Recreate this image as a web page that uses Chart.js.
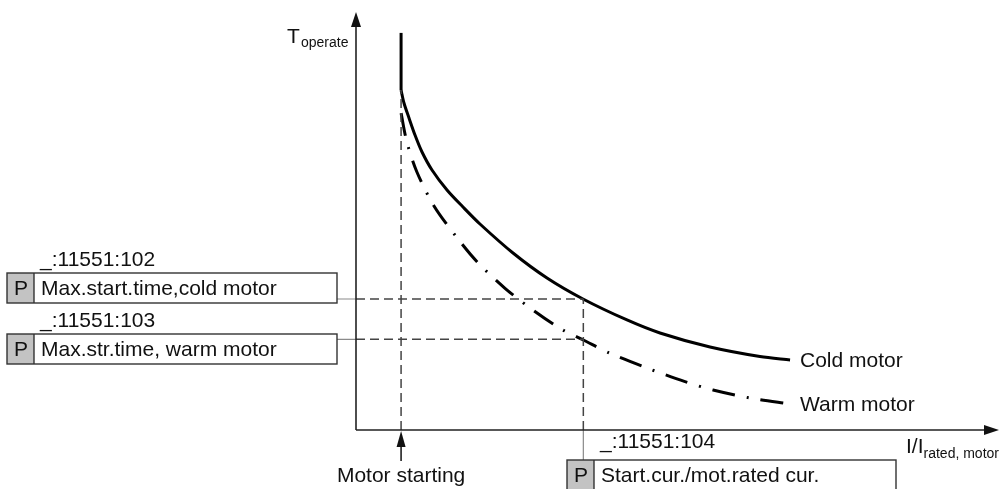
<!DOCTYPE html>
<html>
<head>
<meta charset="utf-8">
<script src="https://cdn.jsdelivr.net/npm/chart.js@4.4.1/dist/chart.umd.min.js"></script>
<style>
  html, body { margin: 0; padding: 0; background: #fff; }
  #wrap { width: 1000px; height: 489px; overflow: hidden; }
</style>
</head>
<body>
<div id="wrap"><canvas id="motor-chart" width="1000" height="489"></canvas></div>
<script>
/* Motor starting time supervision — T_operate vs I/I_rated (schematic units 0..10) */

// cold motor characteristic
const coldX = [0.70, 0.745, 0.823, 0.916, 1.025, 1.18, 1.413, 1.661, 1.925, 2.438, 2.966, 3.525, 4.208, 4.72, 5.497, 6.273, 6.74];
const coldY = [8.13, 7.823, 7.464, 7.057, 6.651, 6.22, 5.742, 5.335, 4.928, 4.234, 3.636, 3.134, 2.632, 2.321, 1.986, 1.758, 1.675];
// vertical part above the starting point
const coldTopX = [0.70, 0.70];
const coldTopY = [8.13, 9.50];

// warm motor characteristic
const warmX = [0.70, 0.789, 0.944, 1.211, 1.564, 1.879, 2.314, 2.795, 3.194, 3.53, 3.944, 4.519, 5.109, 5.544, 6.145, 6.74];
const warmY = [7.58, 6.897, 6.179, 5.359, 4.610, 4.026, 3.390, 2.816, 2.409, 2.153, 1.835, 1.483, 1.156, 0.957, 0.758, 0.62];

// reference points
const motorStart = 0.70;
const startCurrent = 3.53;
const coldAtStart = 3.134;
const warmAtStart = 2.17;

const axisMin = 0, axisMax = 10;

const curveLabels = ['Cold motor', 'Warm motor'];
const paramIds = ['_:11551:102', '_:11551:103', '_:11551:104'];
const paramNames = ['Max.start.time,cold motor', 'Max.str.time, warm motor', 'Start.cur./mot.rated cur.'];

const FONT = '"Liberation Sans", Arial, Helvetica, sans-serif';

const pts = (xs, ys) => xs.map((v, i) => ({ x: v, y: ys[i] }));

const guide = data => ({
    data, borderColor: '#444', borderWidth: 1.5, borderDash: [9, 5],
    pointRadius: 0, tension: 0, fill: false
});

const diagramPlugin = {
    id: 'diagram',
    afterDatasetsDraw(chart) {
        const { ctx, scales: { x, y } } = chart;
        const x0 = x.getPixelForValue(axisMin), y0 = y.getPixelForValue(axisMin);
        const yTop = y.getPixelForValue(axisMax), xEnd = x.getPixelForValue(axisMax);
        const xs = x.getPixelForValue(startCurrent), xm = x.getPixelForValue(motorStart);
        const yc = y.getPixelForValue(coldAtStart), yw = y.getPixelForValue(warmAtStart);

        ctx.save();
        ctx.setLineDash([]);

        // connectors to parameter boxes
        ctx.strokeStyle = '#8a8a8a';
        ctx.lineWidth = 1.2;
        ctx.beginPath();
        ctx.moveTo(337, yc); ctx.lineTo(x0, yc);
        ctx.moveTo(337, yw); ctx.lineTo(x0, yw);
        ctx.moveTo(xs, y0); ctx.lineTo(xs, 460);
        ctx.stroke();

        // axes
        ctx.strokeStyle = '#222';
        ctx.fillStyle = '#111';
        ctx.lineWidth = 1.6;
        ctx.beginPath();
        ctx.moveTo(x0, y0); ctx.lineTo(x0, yTop + 10);
        ctx.moveTo(x0, y0); ctx.lineTo(xEnd - 10, y0);
        ctx.stroke();
        const tri = (a, b, c) => { ctx.beginPath(); ctx.moveTo(...a); ctx.lineTo(...b); ctx.lineTo(...c); ctx.closePath(); ctx.fill(); };
        tri([x0, yTop], [x0 - 5, yTop + 15], [x0 + 5, yTop + 15]);
        tri([xEnd - 1, y0], [xEnd - 16, y0 - 5], [xEnd - 16, y0 + 5]);

        // motor starting arrow
        ctx.beginPath();
        ctx.moveTo(xm, y0 + 12); ctx.lineTo(xm, y0 + 31);
        ctx.stroke();
        tri([xm, y0 + 1], [xm - 4.5, y0 + 17], [xm + 4.5, y0 + 17]);

        // parameter boxes
        const box = (bx, by, bw, bh, name) => {
            ctx.fillStyle = '#fff';
            ctx.fillRect(bx, by, bw, bh);
            ctx.fillStyle = '#c3c3c3';
            ctx.fillRect(bx, by, 27, bh);
            ctx.strokeStyle = '#333';
            ctx.lineWidth = 1.4;
            ctx.strokeRect(bx, by, bw, bh);
            ctx.beginPath(); ctx.moveTo(bx + 27, by); ctx.lineTo(bx + 27, by + bh); ctx.stroke();
            ctx.fillStyle = '#111';
            ctx.font = '21px ' + FONT;
            ctx.textAlign = 'left';
            ctx.textBaseline = 'alphabetic';
            ctx.fillText('P', bx + 7, by + 21.5);
            ctx.fillText(name, bx + 34, by + 21.5);
        };
        box(7, 273, 330, 30, paramNames[0]);
        box(7, 334, 330, 30, paramNames[1]);
        box(567, 460, 329, 40, paramNames[2]);

        ctx.fillStyle = '#111';
        ctx.font = '21px ' + FONT;
        ctx.textAlign = 'left';
        ctx.fillText(paramIds[0], 40, 266);
        ctx.fillText(paramIds[1], 40, 327);
        ctx.fillText(paramIds[2], 600, 448);

        // curve labels
        ctx.fillText(curveLabels[0], 800, 367);
        ctx.fillText(curveLabels[1], 800, 411);

        // motor starting
        ctx.textAlign = 'center';
        ctx.fillText('Motor starting', xm, 482);

        // axis titles with subscripts
        ctx.textAlign = 'left';
        ctx.font = '21px ' + FONT;
        ctx.fillText('T', 287, 43);
        ctx.font = '14px ' + FONT;
        ctx.fillText('operate', 301, 47);
        ctx.font = '21px ' + FONT;
        ctx.fillText('I/I', 906, 453);
        const w = ctx.measureText('I/I').width;
        ctx.font = '14px ' + FONT;
        ctx.fillText('rated, motor', 906 + w, 458);

        ctx.restore();
    }
};

new Chart(document.getElementById('motor-chart'), {
    type: 'line',
    data: {
        datasets: [
            guide([{ x: motorStart, y: axisMin }, { x: motorStart, y: coldY[0] }]),
            guide([{ x: startCurrent, y: axisMin }, { x: startCurrent, y: coldAtStart }]),
            guide([{ x: axisMin, y: coldAtStart }, { x: startCurrent, y: coldAtStart }]),
            guide([{ x: axisMin, y: warmAtStart }, { x: startCurrent, y: warmAtStart }]),
            { label: curveLabels[0], data: pts(coldTopX, coldTopY), borderColor: '#000', borderWidth: 3, pointRadius: 0, tension: 0 },
            { label: curveLabels[0], data: pts(coldX, coldY), borderColor: '#000', borderWidth: 3, pointRadius: 0, tension: 0.3 },
            { label: curveLabels[1], data: pts(warmX, warmY), borderColor: '#000', borderWidth: 3, borderDash: [23, 12, 2, 12], pointRadius: 0, tension: 0.3 }
        ]
    },
    options: {
        responsive: false,
        animation: false,
        devicePixelRatio: 1,
        layout: { padding: { left: 356, right: 0, top: 12, bottom: 59 } },
        scales: {
            x: { type: 'linear', min: axisMin, max: axisMax, display: false },
            y: { type: 'linear', min: axisMin, max: axisMax, display: false }
        },
        plugins: { legend: { display: false }, tooltip: { enabled: false } },
        datasets: { line: { clip: false } }
    },
    plugins: [diagramPlugin]
});
</script>
</body>
</html>
